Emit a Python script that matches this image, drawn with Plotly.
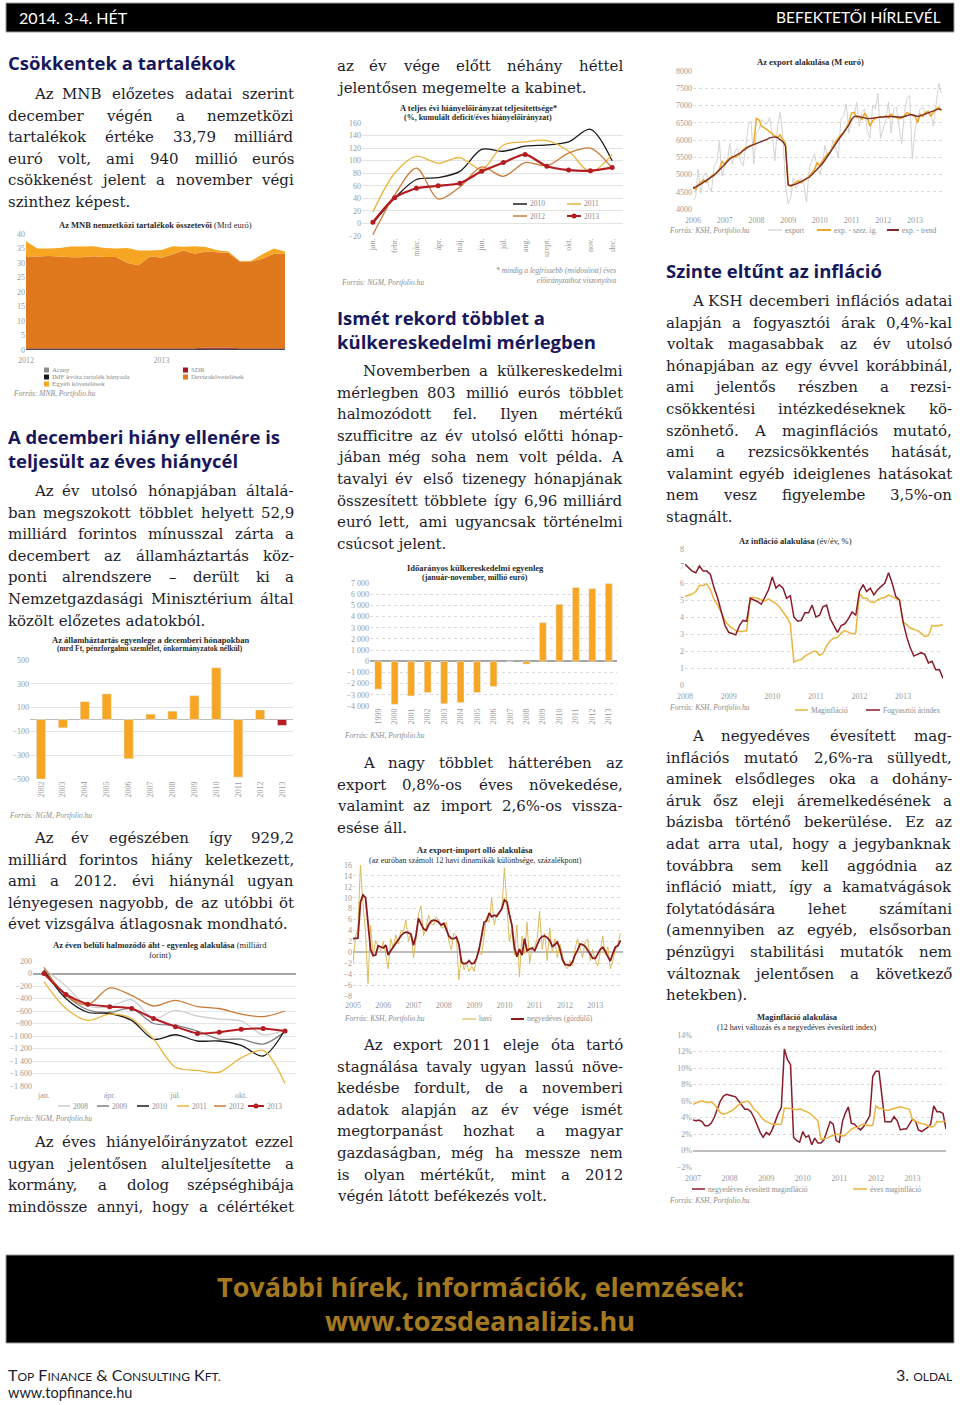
import pandas as pd
import plotly.graph_objects as go

W, H = 960, 1405

# fonts / colours
BODY_FONT = "DejaVu Serif, Georgia, serif"
CHART_FONT = "Liberation Serif, Georgia, serif"
HEAD_FONT = "Open Sans, Lato, sans-serif"
GILL_FONT = "Lato, Open Sans, sans-serif"
TEXT_COL = "#1d1d2b"
HEAD_COL = "#17185c"
TICK_COL = "#9a9a9a"
NOTE_COL = "#8c8c8c"
GRID_COL = "#dadada"
LIGHT_ORANGE = "#f6a623"
DEEP_ORANGE = "#e0791d"
RED = "#b41c22"
DARK_RED = "#8a1b2b"
GOLD = "#eab53a"
BROWN = "#c97b38"

# ---------------- data ----------------
# MNB tartalékok (Mrd euró), 2012.01 - 2013.12
res_months = pd.date_range("2012-01-01", periods=24, freq="MS")
res_arany = [0.1, 0.1, 0.1, 0.1, 0.1, 0.1, 0.1, 0.1, 0.1, 0.1, 0.1, 0.1,
             0.1, 0.1, 0.1, 0.1, 0.1, 0.1, 0.1, 0.1, 0.1, 0.1, 0.1, 0.1]
res_imf = [0.3, 0.3, 0.3, 0.3, 0.3, 0.3, 0.3, 0.3, 0.3, 0.3, 0.3, 0.3,
           0.3, 0.3, 0.3, 0.3, 0.3, 0.3, 0.3, 0.3, 0.3, 0.3, 0.3, 0.3]
res_sdr = [0.2, 0.2, 0.2, 0.2, 0.2, 0.2, 0.2, 0.2, 0.2, 0.2, 0.2, 0.2,
           0.2, 0.2, 0.2, 0.2, 0.5, 0.5, 0.5, 0.2, 0.2, 0.2, 0.2, 0.2]
res_deviza = [31.7, 31.6, 31.8, 31.6, 31.4, 31.4, 31.7, 31.5, 31.5, 29.4, 28.6, 31.7,
              31.2, 32.4, 33.7, 32.6, 33.1, 32.8, 32.6, 29.8, 29.9, 30.9, 32.6, 32.6]
res_egyeb = [5.2, 2.8, 2.6, 3.0, 3.7, 3.7, 3.5, 3.1, 2.9, 5.2, 5.1, 2.0,
             2.7, 2.8, 1.3, 2.6, 1.5, 0.7, 0.5, 0.3, 0.3, 1.5, 1.8, 0.8]

# hiányelőirányzat teljesítettsége (%)
hiany_months = ["jan.", "febr.", "márc.", "ápr.", "máj.", "jún.", "júl.", "aug.",
                "szept.", "okt.", "nov.", "dec."]
hiany_2010 = [0, 40, 70, 73, 83, 118, 115, 123, 125, 130, 150, 100]
hiany_2011 = [18, 80, 107, 96, 105, 86, 125, 130, 132, 115, 82, 110]
hiany_2012 = [-18, 45, 88, 39, 58, 90, 75, 97, 92, 112, 120, 88]
hiany_2013 = [2, 41, 56, 60, 64, 83, 97, 110, 91, 85, 84, 89]

# export (M euró), 2006.01 - 2013.11
exp_months = pd.date_range("2006-01-01", periods=95, freq="MS")
exp_raw = [4250, 4350, 5150, 4450, 4950, 5050, 4650, 4500, 5250, 5350, 5950, 4950,
           5250, 5400, 5900, 5300, 5700, 5750, 5400, 5250, 5800, 6450, 6550, 5300,
           6200, 6300, 6600, 6500, 6450, 6650, 6200, 5400, 6400, 6800, 6100, 4700,
           4150, 4350, 4900, 4600, 4700, 4900, 4700, 4200, 5200, 5400, 5600, 5200,
           5000, 5300, 5850, 5500, 5600, 6000, 5800, 5500, 6600, 6700, 7050, 6200,
           6500, 6700, 7100, 6400, 6800, 6900, 6300, 6050, 7000, 6900, 7350, 6050,
           6300, 6600, 7100, 6200, 6900, 6950, 6400, 5900, 6800, 7200, 7300, 5450,
           6300, 6600, 6900, 6950, 6700, 6850, 6750, 6400, 7000, 7650, 7350]
exp_sa = [4650, 4560, 4700, 4760, 4840, 4780, 4880, 4950, 5000, 5050, 5150, 5380,
          5300, 5420, 5480, 5520, 5500, 5560, 5600, 5720, 5780, 5810, 5830, 5880,
          6620, 6580, 6400, 6360, 6300, 6230, 6180, 6120, 6080, 6150, 6000, 5900,
          4700, 4650, 4700, 4780, 4820, 4760, 4820, 4880, 4950, 5050, 5150, 5350,
          5250, 5400, 5500, 5600, 5650, 5800, 5950, 6050, 6150, 6200, 6350, 6500,
          6780, 6800, 6650, 6680, 6600, 6780, 6650, 6400, 6550, 6620, 6650, 6680,
          6660, 6700, 6650, 6750, 6680, 6650, 6620, 6640, 6700, 6800, 6750, 6720,
          6680, 6500, 6750, 6680, 6800, 6820, 6700, 6800, 6900, 6950, 6850]
exp_trend = [4600, 4630, 4680, 4720, 4770, 4820, 4870, 4920, 4980, 5050, 5130, 5220,
             5300, 5380, 5450, 5500, 5540, 5580, 5630, 5690, 5750, 5800, 5840, 5870,
             5890, 5910, 5940, 5980, 6020, 6060, 6080, 6090, 6070, 6020, 5950, 5830,
             4700, 4680, 4690, 4720, 4760, 4800, 4830, 4870, 4920, 4990, 5070, 5150,
             5230, 5320, 5420, 5530, 5640, 5760, 5880, 6000, 6110, 6220, 6330, 6430,
             6600, 6680, 6690, 6680, 6660, 6640, 6620, 6620, 6630, 6650, 6660, 6670,
             6670, 6670, 6680, 6680, 6670, 6660, 6650, 6660, 6680, 6710, 6730, 6730,
             6700, 6680, 6700, 6730, 6760, 6790, 6810, 6830, 6860, 6900, 6880]

# államháztartás decemberi egyenlege (mrd Ft)
aht_years = ["2002", "2003", "2004", "2005", "2006", "2007", "2008", "2009",
             "2010", "2011", "2012", "2013"]
aht_dec = [-500, -70, 150, 215, -330, 45, 70, 200, 435, -485, 80, -50]

# éven belüli halmozódó egyenleg (milliárd Ft)
halm_months = [1, 2, 3, 4, 5, 6, 7, 8, 9, 10, 11, 12]
halm_ticks = ["jan.", "ápr.", "júl.", "okt."]
halm_2008 = [80, -200, -520, -530, -420, -720, -590, -680, -730, -760, -980, -900]
halm_2009 = [50, -350, -580, -620, -560, -800, -830, -920, -1050, -1050, -1130, -930]
halm_2010 = [50, -400, -620, -640, -750, -1050, -980, -1080, -1080, -1150, -1320, -900]
halm_2011 = [-130, -560, -750, -650, -720, -1050, -1500, -1550, -1580, -1350, -1230, -1760]
halm_2012 = [100, -350, -500, -230, -350, -520, -430, -530, -560, -650, -690, -600]
halm_2013 = [0, -335, -490, -530, -560, -720, -850, -960, -940, -890, -880, -920]

# időarányos külkereskedelmi egyenleg (millió euró)
kk_years = ["1999", "2000", "2001", "2002", "2003", "2004", "2005", "2006",
            "2007", "2008", "2009", "2010", "2011", "2012", "2013"]
kk_balance = [-2500, -3850, -3100, -2800, -3800, -3700, -2800, -2250,
              0, -250, 3450, 5100, 6600, 6500, 6960]

# export-import olló (százalékpont), 2005.01 - 2013.11
ollo_months = pd.date_range("2005-01-01", periods=107, freq="MS")
ollo_havi = [-2.0, 3.0, 4.3, 16.0, 9.0, 3.5, -5.7, 5.0, -0.5, 2.2, 1.0, 0.3,
             2.0, -0.3, -3.0, 2.5, 0.8, 3.2, 1.5, 4.0, 3.8, 6.0, 2.0, 3.5,
             -1.0, 2.5, 7.0, 8.5, 3.0, 4.5, 6.8, 5.2, 5.0, 6.5, 5.8, 4.5,
             4.5, 5.5, 2.0, 0.5, 3.5, 3.0, -5.0, -1.0, -3.2, -2.0, -3.5, -2.5,
             -3.5, -1.0, 0.5, -0.5, 3.0, 6.5, 5.5, 10.0, 5.0, 7.0, 7.5, 8.0,
             15.5, 9.0, 2.0, 4.0, -0.5, 5.0, -4.5, 3.0, -0.3, 5.5, -2.0, 1.0,
             1.0, 2.5, 7.5, 0.5, 3.5, -1.5, 4.5, 0.0, 2.5, -1.0, 1.5, -0.5,
             -2.5, -3.0, -1.5, -2.5, 0.5, 2.5, 1.0, -1.0, 2.0, 2.5, -1.5, 0.5,
             -1.5, -2.5, 0.0, 3.0, -0.5, 1.0, -3.0, -1.5, 0.5, 1.5, 3.5]
ollo_negyed = [2.5, 2.5, 2.6, 9.2, 10.5, 10.0, 5.5, 0.5, -0.6, -0.5, 1.2, 1.0,
               0.8, 1.3, -0.5, 0.3, 1.0, 1.5, 2.2, 3.0, 3.5, 3.7, 3.6, 3.3,
               1.3, 3.2, 6.2, 5.2, 4.3, 4.0, 5.0, 5.7, 5.9, 5.8, 5.5, 5.0,
               5.3, 4.2, 3.0, 2.5, 2.5, 2.8, 1.5, -1.8, -2.1, -2.0, -1.5, -2.1,
               -2.0, -1.0, 0.5, 3.0, 5.5, 5.8, 7.2, 6.5, 6.8, 6.6, 7.2, 8.0,
               9.6, 9.2, 7.0, 5.0, 1.0, -0.8, 0.6, -0.5, 2.5, 0.3, 0.6, 0.8,
               0.3, 1.5, 2.4, 2.9, 3.0, 2.7, 2.2, 1.1, 1.4, 1.9, 0.6, -1.3,
               -2.2, -2.3, -2.4, -1.8, -0.5, 0.4, 1.5, 1.4, 1.1, 0.4, -0.5, -1.1,
               -1.1, -0.3, 0.5, 0.9, 0.2, -0.8, -1.6, -0.2, 1.0, 1.2, 2.2]

# infláció (év/év, %), 2008.01 - 2013.12
inf_months = pd.date_range("2008-01-01", periods=72, freq="MS")
inf_cpi = [7.1, 6.9, 6.7, 6.6, 7.0, 6.7, 6.7, 6.5, 5.7, 5.1, 4.2, 3.5,
           3.1, 3.0, 2.95, 3.5, 3.8, 3.75, 5.1, 5.0, 4.9, 4.75, 5.2, 5.6,
           6.35, 5.7, 5.9, 5.7, 5.1, 5.25, 4.0, 3.75, 3.8, 4.25, 4.25, 4.7,
           4.0, 4.1, 4.6, 4.7, 3.9, 3.5, 3.1, 3.5, 3.6, 3.9, 4.3, 4.1,
           5.5, 5.9, 5.5, 5.7, 5.3, 5.6, 5.8, 6.0, 6.6, 6.0, 5.2, 5.0,
           3.7, 2.8, 2.2, 1.7, 1.8, 1.9, 1.8, 1.3, 1.4, 0.9, 0.9, 0.4]
inf_core = [5.2, 5.3, 5.35, 5.5, 5.85, 5.85, 5.95, 5.6, 5.0, 4.7, 4.2, 3.8,
            3.5, 3.35, 3.2, 3.15, 3.15, 3.2, 5.15, 5.15, 5.1, 5.0, 4.95, 5.05,
            4.9, 4.8, 4.6, 4.3, 4.0, 3.6, 1.35, 1.45, 1.5, 1.7, 1.85, 1.95,
            2.0, 1.75, 1.85, 2.3, 2.6, 2.75, 2.8, 3.05, 3.2, 3.1, 3.0, 3.05,
            5.4, 5.1, 5.1, 4.9, 4.85, 5.0, 5.1, 5.15, 5.3, 5.2, 5.1, 5.0,
            3.7, 3.55, 3.35, 3.25, 3.2, 3.05, 2.85, 2.9, 3.5, 3.45, 3.5, 3.55]

# maginfláció (%), 2007.01 - 2013.12
mag_months = pd.date_range("2007-01-01", periods=84, freq="MS")
mag_eves = [5.6, 5.8, 5.9, 6.0, 5.9, 5.8, 5.9, 5.6, 5.1, 4.6, 4.4, 4.5,
            4.7, 4.9, 5.2, 5.5, 5.8, 5.9, 6.0, 5.6, 5.0, 4.7, 4.2, 3.8,
            3.5, 3.35, 3.2, 3.15, 3.15, 3.2, 5.15, 5.15, 5.1, 5.0, 4.95, 5.05,
            4.9, 4.8, 4.6, 4.3, 4.0, 3.6, 1.35, 1.45, 1.5, 1.7, 1.85, 1.95,
            2.0, 1.75, 1.85, 2.3, 2.6, 2.75, 2.8, 3.05, 3.2, 3.1, 3.0, 3.05,
            5.4, 5.1, 5.1, 4.9, 4.85, 5.0, 5.1, 5.15, 5.3, 5.2, 5.1, 5.0,
            3.7, 3.55, 3.35, 3.25, 3.2, 3.05, 2.85, 2.9, 3.5, 3.45, 3.5, 3.55]
mag_negyed = [3.7, 3.6, 3.7, 3.5, 3.0, 3.0, 3.3, 4.0, 5.0, 6.0, 6.6, 6.8,
              6.7, 6.6, 6.5, 6.0, 5.5, 5.0, 5.0, 4.7, 4.0, 3.0, 2.2, 1.6,
              2.2, 1.9, 2.5, 3.5, 4.5, 5.2, 12.3, 11.0, 10.4, 1.6, 1.2, 1.0,
              2.3, 1.6, 1.8, 0.7, 1.5, 0.9, 0.9, 1.3, 2.5, 3.5, 3.2, 1.2,
              1.0, 3.5, 4.5, 5.3, 3.3, 3.2, 2.8, 2.5, 2.9, 3.5, 4.2, 9.0,
              9.6, 9.6, 6.5, 3.5, 3.5, 3.5, 4.1, 3.6, 2.5, 2.6, 2.6, 3.2,
              3.8, 3.5, 2.5, 2.3, 2.5, 2.8, 3.2, 5.4, 4.7, 4.7, 4.5, 2.6]

# ---------------- helpers ----------------
fig = go.Figure()
annotations = []
shapes = []
axes = {}


def px(x, y):
    return x / W, 1 - y / H


def txt(x, y, s, size=8, color=TICK_COL, family=CHART_FONT, anchor="center"):
    xx, yy = px(x, y)
    annotations.append(dict(x=xx, y=yy, xref="paper", yref="paper", text=s, showarrow=False,
                            xanchor=anchor, yanchor="middle", borderpad=0,
                            font=dict(family=family, size=size, color=color)))


def rect(x0, y0, x1, y1, fill, line=None):
    a, b = px(x0, y0)
    c, d = px(x1, y1)
    shapes.append(dict(type="rect", xref="paper", yref="paper", x0=a, x1=c, y0=d, y1=b,
                       fillcolor=fill, line=line or dict(width=0), layer="above"))


def leg_line(x0, y, length, color, label, width=1.5, marker=False):
    a, b = px(x0, y)
    c, _ = px(x0 + length, y)
    shapes.append(dict(type="line", xref="paper", yref="paper", x0=a, x1=c, y0=b, y1=b,
                       line=dict(color=color, width=width)))
    if marker:
        m0, n0 = px(x0 + length / 2 - 2.5, y - 2.5)
        m1, n1 = px(x0 + length / 2 + 2.5, y + 2.5)
        shapes.append(dict(type="circle", xref="paper", yref="paper", x0=m0, x1=m1, y0=n1, y1=n0,
                           fillcolor=color, line=dict(width=0)))
    txt(x0 + length + 2, y, label, size=7.5, color=NOTE_COL, anchor="left")


def leg_box(x0, y, color, label):
    rect(x0, y - 2.5, x0 + 5, y + 2.5, color)
    txt(x0 + 7, y, label, size=7, color=NOTE_COL, anchor="left")


def source(x, y, s):
    txt(x, y, "<i>" + s + "</i>", size=7.5, color=NOTE_COL, anchor="left")


def ref(i):
    return ("x", "y") if i == 1 else (f"x{i}", f"y{i}")


def axis_pair(i, xbox, ybox, xkw, ykw):
    xr, yr = ref(i)
    tf = dict(family=CHART_FONT, size=8, color=TICK_COL)
    xa = dict(domain=[xbox[0] / W, xbox[1] / W], anchor=yr, showgrid=False, zeroline=False,
              showline=False, ticks="", tickfont=tf, fixedrange=True, automargin=False)
    ya = dict(domain=[1 - ybox[1] / H, 1 - ybox[0] / H], anchor=xr, showgrid=True,
              gridcolor=GRID_COL, gridwidth=1, zeroline=False, showline=False, ticks="",
              tickfont=tf, fixedrange=True, automargin=False)
    xa.update(xkw)
    ya.update(ykw)
    axes["xaxis" if i == 1 else f"xaxis{i}"] = xa
    axes["yaxis" if i == 1 else f"yaxis{i}"] = ya


# width estimate for the body serif (em units) used to justify lines
CHAR_W = {" ": .318, "a": .596, "b": .640, "c": .560, "d": .640, "e": .592, "f": .370,
          "g": .640, "h": .644, "i": .320, "j": .310, "k": .606, "l": .320, "m": .948,
          "n": .644, "o": .602, "p": .640, "q": .640, "r": .478, "s": .513, "t": .402,
          "u": .644, "v": .565, "w": .856, "x": .564, "y": .565, "z": .527,
          "A": .722, "B": .735, "C": .720, "D": .802, "E": .729, "F": .693, "G": .799,
          "H": .872, "I": .395, "J": .401, "K": .747, "L": .664, "M": 1.024, "N": .875,
          "O": .820, "P": .673, "R": .753, "S": .685, "T": .667, "U": .843, "V": .722,
          "W": 1.028, "X": .712, "Y": .660, "Z": .695, ".": .318, ",": .318, "-": .338,
          "%": .950, "(": .390, ")": .390, "–": .500}
BASE = str.maketrans("áéíóöőúüűÁÉÍÓÖŐÚÜŰ", "aeiooouuuAEIOOOUUU")
FS = 15
LH = 21.6


def est(word):
    return sum(CHAR_W.get(c, .636 if c.isdigit() else .6) for c in word.translate(BASE)) * FS


def para(lines, x0, x1, y0, indent=26, justify_last=False):
    for k, line in enumerate(lines):
        y = y0 + k * LH
        start = x0 + (indent if k == 0 else 0)
        words = line.split()
        last = k == len(lines) - 1 and not justify_last
        widths = [est(w) for w in words]
        gap = (x1 - start - sum(widths)) / max(len(words) - 1, 1)
        if last or len(words) == 1 or gap < 2:
            txt(start, y, line, size=FS, color=TEXT_COL, family=BODY_FONT, anchor="left")
            continue
        pos = start
        for j, (w, wd) in enumerate(zip(words, widths)):
            if j == 0:
                txt(pos, y, w, size=FS, color=TEXT_COL, family=BODY_FONT, anchor="left")
            elif j == len(words) - 1:
                txt(x1, y, w, size=FS, color=TEXT_COL, family=BODY_FONT, anchor="right")
            else:
                txt(pos + wd / 2, y, w, size=FS, color=TEXT_COL, family=BODY_FONT)
            pos += wd + gap


def heading(x, y, s):
    txt(x, y, "<b>" + s + "</b>", size=18.5, color=HEAD_COL, family=HEAD_FONT, anchor="left")


def title(x, y, s, size=8.5):
    txt(x, y, s, size=size, color="#2b2b2b")


# ---------------- chart 1: MNB tartalékok ----------------
xr, yr = ref(1)
for name, vals, col in (("Arany", res_arany, "#8c8c8c"),
                        ("IMF kvóta tartalék hányada", res_imf, "#1a1a1a"),
                        ("SDR", res_sdr, "#a3141c"),
                        ("Devizakövetelések", res_deviza, DEEP_ORANGE),
                        ("Egyéb követelések", res_egyeb, LIGHT_ORANGE)):
    fig.add_trace(go.Scatter(x=res_months, y=vals, name=name, mode="none", stackgroup="res",
                             fillcolor=col, xaxis=xr, yaxis=yr, hoverinfo="skip"))
axis_pair(1, (26, 285), (234, 350),
          dict(type="date", range=[res_months[0], res_months[-1]],
               tickvals=["2012-01-01", "2013-01-01"], ticktext=["2012", "2013"],
               ticklabelstandoff=4),
          dict(range=[0, 40], dtick=5, showgrid=False))
title(155, 225, "<b>Az MNB nemzetközi tartalékok összetevői</b> (Mrd euró)")
leg_box(44, 370, "#8c8c8c", "Arany")
leg_box(44, 377, "#1a1a1a", "IMF kvóta tartalék hányada")
leg_box(44, 384, LIGHT_ORANGE, "Egyéb követelések")
leg_box(183, 370, "#a3141c", "SDR")
leg_box(183, 377, DEEP_ORANGE, "Devizakövetelések")
source(12, 393, "Forrás: MNB, Portfolio.hu")

# ---------------- chart 2: hiányelőirányzat ----------------
xr, yr = ref(2)
for name, vals, col in (("2010", hiany_2010, "#1a1a1a"), ("2011", hiany_2011, GOLD),
                        ("2012", hiany_2012, BROWN)):
    fig.add_trace(go.Scatter(x=hiany_months, y=vals, name=name, mode="lines",
                             line=dict(color=col, width=1.3, shape="spline", smoothing=0.9),
                             xaxis=xr, yaxis=yr))
fig.add_trace(go.Scatter(x=hiany_months, y=hiany_2013, name="2013", mode="lines+markers",
                         line=dict(color=RED, width=2.2, shape="spline", smoothing=0.6),
                         marker=dict(size=5, color=RED), xaxis=xr, yaxis=yr))
axis_pair(2, (362, 623), (123, 236),
          dict(type="category", range=[-0.5, 11.5], tickangle=-90),
          dict(range=[-20, 160], dtick=20, gridcolor="#e3e3e3"))
title(478, 108, "<b>A teljes évi hiányelőirányzat teljesítettsége*</b>")
title(478, 117, "<b>(%, kumulált deficit/éves hiányelőirányzat)</b>", size=8)
leg_line(513, 204, 14, "#1a1a1a", "2010")
leg_line(567, 204, 14, GOLD, "2011")
leg_line(513, 216, 14, BROWN, "2012")
leg_line(567, 216, 14, RED, "2013", width=2, marker=True)
source(340, 282, "Forrás: NGM, Portfolio.hu")
txt(617, 276, "<i>* mindig a legfrissebb (módosított) éves<br>előirányzathoz viszonyítva</i>",
    size=7.5, color=NOTE_COL, anchor="right")
annotations[-1]["align"] = "right"

# ---------------- chart 3: export ----------------
xr, yr = ref(3)
fig.add_trace(go.Scatter(x=exp_months, y=exp_raw, name="export", mode="lines",
                         line=dict(color="#d3d3d3", width=1), xaxis=xr, yaxis=yr))
fig.add_trace(go.Scatter(x=exp_months, y=exp_sa, name="exp. - szez. ig.", mode="lines",
                         line=dict(color="#efa92a", width=1.6), xaxis=xr, yaxis=yr))
fig.add_trace(go.Scatter(x=exp_months, y=exp_trend, name="exp. - trend", mode="lines",
                         line=dict(color="#7b2d26", width=1.4), xaxis=xr, yaxis=yr))
axis_pair(3, (693, 944), (71, 209),
          dict(type="date", range=["2006-01-01", "2013-12-01"], dtick="M12",
               tick0="2006-01-01", tickformat="%Y", ticklabelstandoff=5),
          dict(range=[4000, 8000], dtick=500, tickformat="d", griddash="dot"))
title(810, 62, "<b>Az export alakulása (M euró)</b>")
source(668, 230, "Forrás: KSH, Portfolio.hu")
leg_line(768, 230, 14, "#cfcfcf", "export", width=1.2)
leg_line(817, 230, 14, "#efa92a", "exp. - szez. ig.", width=2)
leg_line(887, 230, 12, "#7b2d26", "exp. - trend", width=2)

# ---------------- chart 4: decemberi egyenleg ----------------
xr, yr = ref(4)
fig.add_trace(go.Bar(x=aht_years, y=aht_dec, width=0.42,
                     marker=dict(color=[RED if yr_ == "2013" else LIGHT_ORANGE for yr_ in aht_years]),
                     xaxis=xr, yaxis=yr))
axis_pair(4, (30, 293), (660, 779),
          dict(type="category", range=[-0.5, 11.5], tickangle=-90),
          dict(range=[-500, 500], tickvals=[-500, -300, -100, 100, 300, 500],
               zeroline=True, zerolinecolor="#bdbdbd", zerolinewidth=1, gridcolor="#e3e3e3"))
title(150, 640, "<b>Az államháztartás egyenlege a decemberi hónapokban</b>")
title(150, 648, "<b>(mrd Ft, pénzforgalmi szemlélet, önkormányzatok nélkül)</b>", size=7.5)
source(8, 815, "Forrás: NGM, Portfolio.hu")

# ---------------- chart 5: halmozódó egyenleg ----------------
xr, yr = ref(5)
for name, vals, col in (("2008", halm_2008, "#cfcfcf"), ("2009", halm_2009, "#7f7f7f"),
                        ("2010", halm_2010, "#1a1a1a"), ("2011", halm_2011, GOLD),
                        ("2012", halm_2012, BROWN)):
    fig.add_trace(go.Scatter(x=halm_months, y=vals, name=name, mode="lines",
                             line=dict(color=col, width=1.3, shape="spline", smoothing=0.9),
                             xaxis=xr, yaxis=yr))
fig.add_trace(go.Scatter(x=halm_months, y=halm_2013, name="2013", mode="lines+markers",
                         line=dict(color=RED, width=2, shape="spline", smoothing=0.6),
                         marker=dict(size=5, color=RED), xaxis=xr, yaxis=yr))
axis_pair(5, (33, 296), (961, 1086),
          dict(range=[0.5, 12.5], tickvals=[1, 4, 7, 10], ticktext=halm_ticks,
               ticklabelstandoff=3),
          dict(range=[-1800, 200], dtick=200, tickformat=",d", zeroline=True,
               zerolinecolor="#a6a6a6", gridcolor="#e6e6e6"))
title(160, 945, "<b>Az éven belüli halmozódó áht - egyenleg alakulása</b> (milliárd")
title(160, 955, "forint)")
leg_line(58, 1106, 12, "#cfcfcf", "2008")
leg_line(97, 1106, 12, "#7f7f7f", "2009")
leg_line(137, 1106, 12, "#1a1a1a", "2010")
leg_line(177, 1106, 12, GOLD, "2011")
leg_line(214, 1106, 12, BROWN, "2012")
leg_line(248, 1106, 16, RED, "2013", width=2, marker=True)
source(8, 1118, "Forrás: NGM, Portfolio.hu")

# ---------------- chart 6: külkereskedelmi egyenleg ----------------
xr, yr = ref(6)
fig.add_trace(go.Bar(x=kk_years, y=kk_balance, width=0.42, marker=dict(color=LIGHT_ORANGE),
                     xaxis=xr, yaxis=yr))
axis_pair(6, (370, 617), (583, 706),
          dict(type="category", range=[-0.5, 14.5], tickangle=-90),
          dict(range=[-4000, 7000], dtick=1000, tickformat=",d", griddash="dot",
               zeroline=True, zerolinecolor="#a6a6a6"))
title(475, 568, "<b>Időarányos külkereskedelmi egyenleg</b>")
title(475, 577, "<b>(január-november, millió euró)</b>", size=8)
source(343, 735, "Forrás: KSH, Portfolio.hu")

# ---------------- chart 7: export-import olló ----------------
xr, yr = ref(7)
fig.add_trace(go.Scatter(x=ollo_months, y=ollo_havi, name="havi", mode="lines",
                         line=dict(color="#dcbb5c", width=1), xaxis=xr, yaxis=yr))
fig.add_trace(go.Scatter(x=ollo_months, y=ollo_negyed, name="negyedéves (gördülő)", mode="lines",
                         line=dict(color="#8b1a1a", width=1.8), xaxis=xr, yaxis=yr))
axis_pair(7, (353, 623), (865, 996),
          dict(type="date", range=["2005-01-01", "2013-12-01"], dtick="M12",
               tick0="2005-01-01", tickformat="%Y", ticklabelstandoff=3),
          dict(range=[-8, 16], dtick=2, griddash="dot", zeroline=True,
               zerolinecolor="#bdbdbd"))
title(475, 850, "<b>Az export-import olló alakulása</b>")
title(475, 860, "(az euróban számolt 12 havi dinamikák különbsége, százalékpont)", size=8)
source(343, 1018, "Forrás: KSH, Portfolio.hu")
leg_line(462, 1019, 14, "#dcbb5c", "havi", width=1.2)
leg_line(511, 1019, 13, "#8b1a1a", "negyedéves (gördülő)", width=2)

# ---------------- chart 8: infláció ----------------
xr, yr = ref(8)
fig.add_trace(go.Scatter(x=inf_months, y=inf_core, name="Maginfláció", mode="lines",
                         line=dict(color=GOLD, width=1.5), xaxis=xr, yaxis=yr))
fig.add_trace(go.Scatter(x=inf_months, y=inf_cpi, name="Fogyasztói árindex", mode="lines",
                         line=dict(color=DARK_RED, width=1.5), xaxis=xr, yaxis=yr))
axis_pair(8, (685, 943), (549, 685),
          dict(type="date", range=["2008-01-01", "2013-12-01"], dtick="M12",
               tick0="2008-01-01", tickformat="%Y", ticklabelstandoff=5),
          dict(range=[0, 8], dtick=1, griddash="dot"))
title(795, 541, "<b>Az infláció alakulása</b> (év/év, %)")
source(668, 708, "Forrás: KSH, Portfolio.hu")
leg_line(795, 710, 13, GOLD, "Maginfláció")
leg_line(866, 710, 14, DARK_RED, "Fogyasztói árindex")

# ---------------- chart 9: maginfláció ----------------
xr, yr = ref(9)
fig.add_trace(go.Scatter(x=mag_months, y=mag_negyed, name="negyedéves évesített maginfláció",
                         mode="lines", line=dict(color=DARK_RED, width=1.5), xaxis=xr, yaxis=yr))
fig.add_trace(go.Scatter(x=mag_months, y=mag_eves, name="éves maginfláció", mode="lines",
                         line=dict(color=GOLD, width=1.5), xaxis=xr, yaxis=yr))
axis_pair(9, (693, 946), (1035, 1167),
          dict(type="date", range=["2007-01-01", "2013-12-01"], dtick="M12",
               tick0="2007-01-01", tickformat="%Y", ticklabelstandoff=5),
          dict(range=[-2, 14], dtick=2, ticksuffix="%", griddash="dot", zeroline=True,
               zerolinecolor="#bdbdbd"))
title(797, 1017, "<b>Maginfláció alakulása</b>")
title(797, 1027, "(12 havi változás és a negyedéves évesített index)", size=8)
leg_line(692, 1189, 13, DARK_RED, "negyedéves évesített maginfláció")
leg_line(853, 1189, 14, GOLD, "éves maginfláció")
source(668, 1200, "Forrás: KSH, Portfolio.hu")

# ---------------- page text ----------------
# header
rect(6, 3, 954, 32, "#000000", line=dict(color="#9a9a9a", width=1))
txt(18, 17, "2014. 3-4. HÉT", size=16, color="white", family=GILL_FONT, anchor="left")
txt(942, 17, "BEFEKTETŐI HÍRLEVÉL", size=15.5, color="white", family=GILL_FONT, anchor="right")

# left column
heading(7, 63, "Csökkentek a tartalékok")
para(["Az MNB előzetes adatai szerint", "december végén a nemzetközi",
      "tartalékok értéke 33,79 milliárd", "euró volt, ami 940 millió eurós",
      "csökkenést jelent a november végi", "szinthez képest."], 7, 295, 94)
heading(7, 437, "A decemberi hiány ellenére is")
heading(7, 460, "teljesült az éves hiánycél")
para(["Az év utolsó hónapjában általá-", "ban megszokott többlet helyett 52,9",
      "milliárd forintos mínusszal zárta a", "decembert az államháztartás köz-",
      "ponti alrendszere – derült ki a", "Nemzetgazdasági Minisztérium által",
      "közölt előzetes adatokból."], 7, 295, 491)
para(["Az év egészében így 929,2", "milliárd forintos hiány keletkezett,",
      "ami a 2012. évi hiánynál ugyan", "lényegesen nagyobb, de az utóbbi öt",
      "évet vizsgálva átlagosnak mondható."], 7, 295, 838)
para(["Az éves hiányelőirányzatot ezzel", "ugyan jelentősen alulteljesítette a",
      "kormány, a dolog szépséghibája", "mindössze annyi, hogy a célértéket"],
     7, 295, 1142, justify_last=True)

# middle column
para(["az év vége előtt néhány héttel", "jelentősen megemelte a kabinet."], 336, 624, 66, indent=0)
heading(336, 318, "Ismét rekord többlet a")
heading(336, 341, "külkereskedelmi mérlegben")
para(["Novemberben a külkereskedelmi", "mérlegben 803 millió eurós többlet",
      "halmozódott fel. Ilyen mértékű", "szufficitre az év utolsó előtti hónap-",
      "jában még soha nem volt példa. A", "tavalyi év első tizenegy hónapjának",
      "összesített többlete így 6,96 milliárd", "euró lett, ami ugyancsak történelmi",
      "csúcsot jelent."], 336, 624, 371)
para(["A nagy többlet hátterében az", "export 0,8%-os éves növekedése,",
      "valamint az import 2,6%-os vissza-", "esése áll."], 336, 624, 763)
para(["Az export 2011 eleje óta tartó", "stagnálása tavaly ugyan lassú növe-",
      "kedésbe fordult, de a novemberi", "adatok alapján az év vége ismét",
      "megtorpanást hozhat a magyar", "gazdaságban, még ha messze nem",
      "is olyan mértékűt, mint a 2012", "végén látott befékezés volt."], 336, 624, 1045)

# right column
heading(665, 271, "Szinte eltűnt az infláció")
para(["A KSH decemberi inflációs adatai", "alapján a fogyasztói árak 0,4%-kal",
      "voltak magasabbak az év utolsó", "hónapjában az egy évvel korábbinál,",
      "ami jelentős részben a rezsi-", "csökkentési intézkedéseknek kö-",
      "szönhető. A maginflációs mutató,", "ami a rezsicsökkentés hatását,",
      "valamint egyéb ideiglenes hatásokat", "nem vesz figyelembe 3,5%-on",
      "stagnált."], 665, 953, 301)
para(["A negyedéves évesített mag-", "inflációs mutató 2,6%-ra süllyedt,",
      "aminek elsődleges oka a dohány-", "áruk ősz eleji áremelkedésének a",
      "bázisba történő bekerülése. Ez az", "adat arra utal, hogy a jegybanknak",
      "továbbra sem kell aggódnia az", "infláció miatt, így a kamatvágások",
      "folytatódására lehet számítani", "(amennyiben az egyéb, elsősorban",
      "pénzügyi stabilitási mutatók nem", "változnak jelentősen a következő",
      "hetekben)."], 665, 953, 736)

# footer banner
rect(6, 1255, 954, 1343, "#000000", line=dict(color="#9a9a9a", width=1))
txt(480, 1286, "<b>További hírek, információk, elemzések:</b>", size=27, color="#a47920",
    family=HEAD_FONT)
txt(480, 1320, "<b>www.tozsdeanalizis.hu</b>", size=27, color="#a47920", family=HEAD_FONT)

small = '<span style="font-size:12px">'
txt(7, 1374, "T" + small + "OP</span> F" + small + "INANCE</span> &amp; C" + small +
    "ONSULTING</span> K" + small + "FT.</span>", size=16, color="#1c1c30",
    family=GILL_FONT, anchor="left")
txt(7, 1392, "www.topfinance.hu", size=14.5, color="#1c1c30", family=GILL_FONT, anchor="left")
txt(953, 1374, "3. " + small + "OLDAL</span>", size=16, color="#1c1c30",
    family=GILL_FONT, anchor="right")

fig.update_layout(
    width=W, height=H,
    margin=dict(l=0, r=0, t=0, b=0, pad=0, autoexpand=False),
    paper_bgcolor="white",
    plot_bgcolor="white",
    showlegend=False,
    separators=", ",
    annotations=annotations,
    shapes=shapes,
    **axes
)

# page without body margin or scrollbars so the figure sits at the window origin
fig.write_html(
    "out.html",
    config={"displayModeBar": False, "staticPlot": True},
    post_script="document.documentElement.style.overflow='hidden';"
                "document.body.style.margin='0px';document.body.style.overflow='hidden';",
)
